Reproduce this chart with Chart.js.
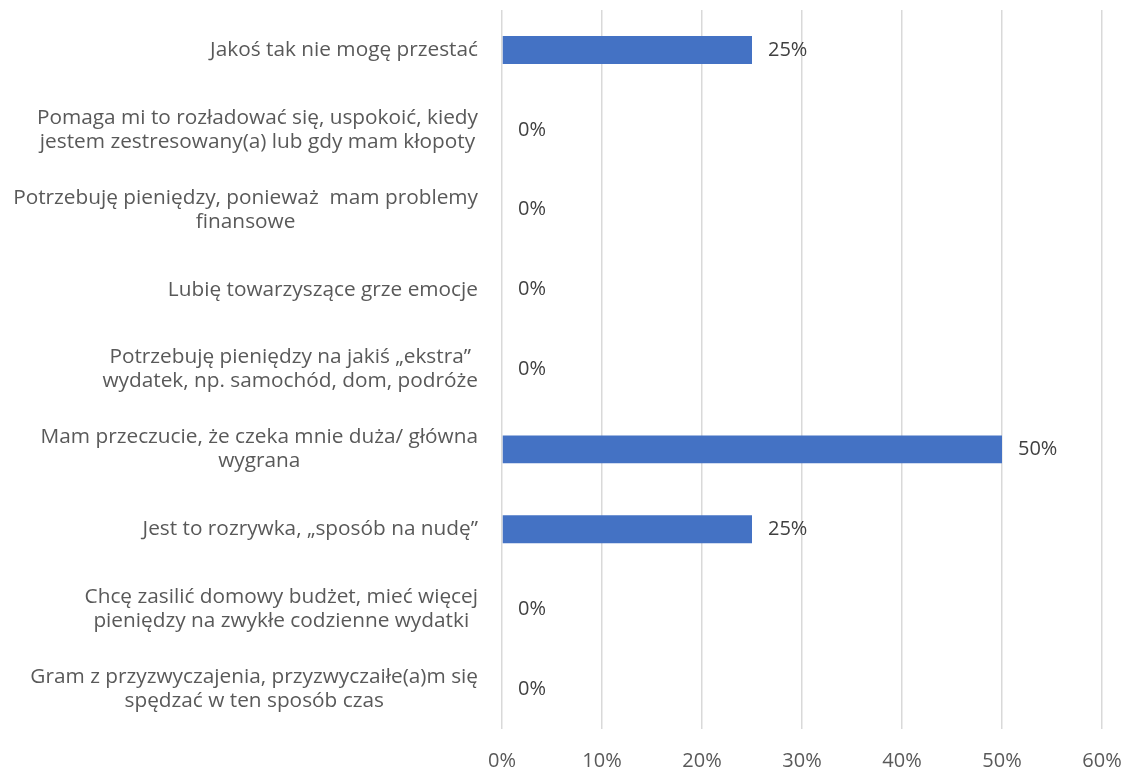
<!DOCTYPE html>
<html>
<head>
<meta charset="utf-8">
<script src="https://cdn.jsdelivr.net/npm/chart.js@4/dist/chart.umd.min.js"></script>
<style>
html,body{margin:0;padding:0;background:#fff;}
#wrap{width:1130px;height:772px;position:relative;}
</style>
</head>
<body>
<div id="wrap"><canvas id="c"></canvas></div>
<script>
const categories = [
  ["Jakoś tak nie mogę przestać"],
  ["Pomaga mi to rozładować się, uspokoić, kiedy", "jestem zestresowany(a) lub gdy mam kłopoty"],
  ["Potrzebuję pieniędzy, ponieważ  mam problemy", "finansowe"],
  ["Lubię towarzyszące grze emocje"],
  ["Potrzebuję pieniędzy na jakiś „ekstra”", "wydatek, np. samochód, dom, podróże"],
  ["Mam przeczucie, że czeka mnie duża/ główna", "wygrana"],
  ["Jest to rozrywka, „sposób na nudę”"],
  ["Chcę zasilić domowy budżet, mieć więcej", "pieniędzy na zwykłe codzienne wydatki"],
  ["Gram z przyzwyczajenia, przyzwyczaiłe(a)m się", "spędzać w ten sposób czas"]
];
const values = [25, 0, 0, 0, 0, 50, 25, 0, 0];
const xTicks = [0, 10, 20, 30, 40, 50, 60];

const FONT = '"Open Sans", "DejaVu Sans", sans-serif';

const yLabelsPlugin = {
  id: 'yLabels',
  afterDraw(chart) {
    const ctx = chart.ctx;
    const ys = chart.scales.y;
    ctx.save();
    ctx.font = '20.8px ' + FONT;
    ctx.fillStyle = '#595959';
    ctx.textAlign = 'center';
    ctx.textBaseline = 'middle';
    const lh = 24;
    categories.forEach((lines, i) => {
      const yc = ys.getPixelForValue(i);
      let w = 0;
      lines.forEach(l => { w = Math.max(w, ctx.measureText(l).width); });
      const right = chart.chartArea.left - 24;
      const cx = right - w / 2;
      const y0 = yc - (lines.length - 1) * lh / 2;
      lines.forEach((l, k) => ctx.fillText(l, cx, y0 + k * lh));
    });
    ctx.restore();
  }
};

const dataLabelsPlugin = {
  id: 'dataLabels',
  afterDatasetsDraw(chart) {
    const ctx = chart.ctx;
    const meta = chart.getDatasetMeta(0);
    ctx.save();
    ctx.font = '20px ' + FONT;
    ctx.fillStyle = '#404040';
    ctx.textAlign = 'left';
    ctx.textBaseline = 'middle';
    meta.data.forEach((bar, i) => {
      ctx.fillText(values[i] + '%', bar.x + 16, bar.y);
    });
    ctx.restore();
  }
};

new Chart(document.getElementById('c'), {
  type: 'bar',
  data: {
    labels: categories.map(c => c.join(' ')),
    datasets: [{
      data: values,
      backgroundColor: '#4472C4',
      borderWidth: 0,
      categoryPercentage: 1,
      barPercentage: 0.35
    }]
  },
  options: {
    indexAxis: 'y',
    responsive: true,
    maintainAspectRatio: false,
    animation: false,
    layout: { padding: { top: 10, right: 28, bottom: 0, left: 0 } },
    plugins: { legend: { display: false }, tooltip: { enabled: false } },
    scales: {
      x: {
        min: 0, max: 60,
        afterBuildTicks(scale) { scale.ticks = xTicks.map(v => ({ value: v })); },
        ticks: {
          callback: v => v + '%',
          font: { family: FONT, size: 20 },
          color: '#595959',
          padding: 20,
          maxRotation: 0
        },
        grid: { color: '#d9d9d9', lineWidth: 1.5, drawTicks: false },
        border: { display: false },
        afterFit(scale) {
          scale.height = 43;
          scale.paddingLeft = 0; scale.paddingRight = 0;
        }
      },
      y: {
        ticks: { display: false },
        grid: { display: false },
        border: { display: false },
        afterFit(scale) {
          scale.width = 502;
          scale.paddingTop = 0; scale.paddingBottom = 0;
        }
      }
    }
  },
  plugins: [yLabelsPlugin, dataLabelsPlugin]
});
</script>
</body>
</html>
